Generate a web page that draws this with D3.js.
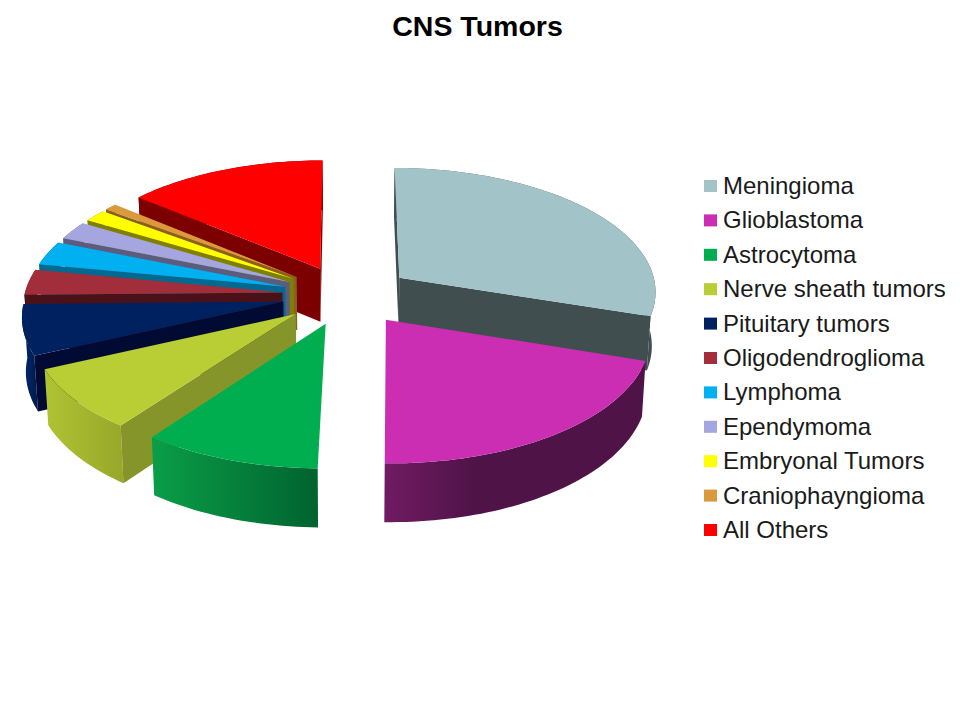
<!DOCTYPE html>
<html><head><meta charset="utf-8">
<style>html,body{margin:0;padding:0;background:#fff}svg{display:block}text{font-family:"Liberation Sans",Arial,sans-serif}</style>
<script src="https://cdn.jsdelivr.net/npm/d3@7"></script></head>
<body><svg id="c" width="960" height="720"></svg>
<script>
const categories=["Meningioma","Glioblastoma","Astrocytoma","Nerve sheath tumors","Pituitary tumors","Oligodendroglioma","Lymphoma","Ependymoma","Embryonal Tumors","Craniophayngioma","All Others"];
const shares=[30.0,20.3,9.9,8.0,6.5,3.3,3.1,2.4,1.6,0.9,14.0];
const topColors=["#a2c3c8","#cb2eb2","#00ae50","#b9cd35","#00215f","#a12e3a","#00b0f0","#a5a5e0","#ffff00","#da9a3c","#ff0000"];
const wallColors=["#414e50","#54134a","#006b31","#86952a","#000a33","#4a1218","#006a90","#5c5c80","#808000","#8a6020","#7d0000"];
const outerLight=["#536367","#701b63","#0a9e48","#b0c332","#002a78","#6e1e27","#0088b8","#7777a8","#a0a000","#a87830","#7d0000"];
const outerDark=["#414e50","#4f1347","#00632f","#98a82a","#001c52","#561620","#006a90","#5c5c80","#808000","#8a6020","#7d0000"];
const title="CNS Tumors";
const svg=d3.select("#c");
const defs=svg.append("defs");
// projection of the tilted pie
const cx=347.3,cy=295,a=258,b=124,k=0.1,explodeX=0.2527,explodeY=0.24,T=53.8,b2=127.7,shrink=0.988;
const top2=(u,v)=>[cx+a*u/(1-k*v),cy+b*v/(1-k*v)];
const bot2=(u,v)=>[cx+shrink*a*u/(1-k*v),cy+T+b2*v/(1-k*v)];
const line=d3.line();
const pie=d3.pie().sort(null).value(d=>d).startAngle(0).endAngle(2*Math.PI);
const arcs=pie(shares);
const drawOrder=[10,9,8,7,6,5,4,3,2,0,1];
const pathOf=p=>line(p)+"Z";
const deg=r=>r*180/Math.PI;
drawOrder.forEach(i=>{
  const s=arcs[i],mid=(s.startAngle+s.endAngle)/2;
  const ox=explodeX*Math.sin(mid),oy=-explodeY*Math.cos(mid);
  const n=Math.max(4,Math.ceil((s.endAngle-s.startAngle)*40));
  const ring=d3.range(n+1).map(j=>{
    const t=s.startAngle+(s.endAngle-s.startAngle)*j/n;
    return [ox+Math.sin(t),oy-Math.cos(t)];
  });
  const topArc=ring.map(d=>top2(d[0],d[1]));
  const botArc=ring.map(d=>bot2(d[0],d[1]));
  const aT=top2(ox,oy),aB=bot2(ox,oy);
  const g=svg.append("g").attr("class","slice");
  // outer wall with horizontal shading
  const id="o"+i;
  const xs=topArc.map(d=>d[0]);
  const lg=defs.append("linearGradient").attr("id",id).attr("gradientUnits","userSpaceOnUse")
    .attr("x1",d3.min(xs)).attr("x2",d3.max(xs)).attr("y1",0).attr("y2",0);
  lg.append("stop").attr("offset",0).attr("stop-color",outerLight[i]);
  lg.append("stop").attr("offset",i===1?0.35:1).attr("stop-color",outerDark[i]);
  g.append("path").attr("d",pathOf(topArc.concat(botArc.slice().reverse()))).attr("fill",`url(#${id})`);
  // radial walls, skipping those seen edge-on near the front of the pie
  const sd=deg(s.startAngle),ed=deg(s.endAngle);
  if(sd<5||sd>185) g.append("path").attr("d",pathOf([aT,topArc[0],botArc[0],aB])).attr("fill",wallColors[i]);
  if(ed<175||ed>355) g.append("path").attr("d",pathOf([aT,topArc[n],botArc[n],aB])).attr("fill",wallColors[i]);
  // top face
  g.append("path").attr("d",pathOf([aT].concat(topArc))).attr("fill",topColors[i]);
});
// title
svg.append("text").attr("x",477.5).attr("y",36).attr("text-anchor","middle").attr("font-size",28.5).attr("font-weight","bold").attr("fill","#000").text(title);
// legend
const legY=d3.scalePoint().domain(categories).range([186,530]);
const leg=svg.append("g").selectAll("g").data(categories).join("g").attr("transform",d=>`translate(704,${legY(d)})`);
leg.append("rect").attr("x",0).attr("y",-6).attr("width",13).attr("height",12).attr("fill",(d,i)=>topColors[i]);
leg.append("text").attr("x",19).attr("y",8).attr("font-size",24).attr("fill","#1a1a1a").text(d=>d);
</script></body></html>
